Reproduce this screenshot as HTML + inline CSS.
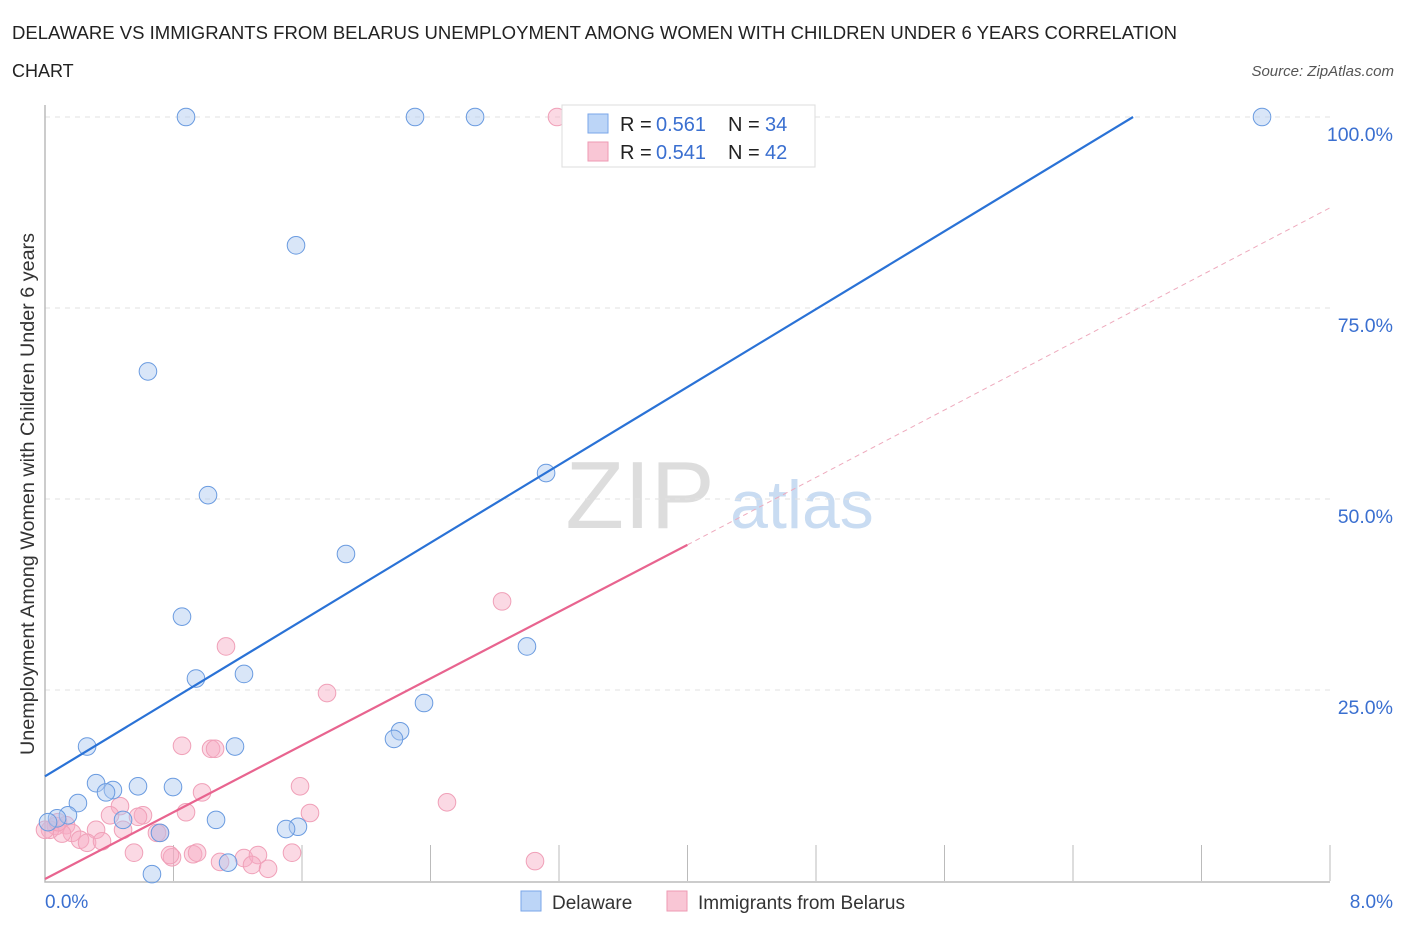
<!DOCTYPE html>
<html><head><meta charset="utf-8"><style>
body{margin:0;background:#fff;font-family:"Liberation Sans",sans-serif}
svg text{font-family:"Liberation Sans",sans-serif}
</style></head><body>
<svg width="1406" height="930" viewBox="0 0 1406 930">
<text x="12" y="39" font-size="18" fill="#222" textLength="1165" lengthAdjust="spacingAndGlyphs">DELAWARE VS IMMIGRANTS FROM BELARUS UNEMPLOYMENT AMONG WOMEN WITH CHILDREN UNDER 6 YEARS CORRELATION</text>
<text x="12" y="77" font-size="18" fill="#222">CHART</text>
<text x="1394" y="76" font-size="15" font-style="italic" fill="#555" text-anchor="end">Source: ZipAtlas.com</text>
<text x="640" y="528" font-size="96" font-family="Liberation Serif,serif" fill="#ddd" text-anchor="middle">ZIP</text>
<text x="802" y="528" font-size="68" fill="#c9dcf2" text-anchor="middle">atlas</text>
<g id="grid"></g>
<g id="marks"></g>
<text transform="translate(34,494) rotate(-90)" font-size="19" fill="#333" text-anchor="middle" textLength="522" lengthAdjust="spacingAndGlyphs">Unemployment Among Women with Children Under 6 years</text>
<text x="45" y="908" font-size="19" fill="#3a6fd0">0.0%</text>
<text x="1393" y="908" font-size="19" fill="#3a6fd0" text-anchor="end">8.0%</text>
<g>
<rect x="562" y="105" width="253" height="62" fill="#fff" stroke="#ddd"/>
<rect x="588" y="114" width="20" height="19" fill="#bcd5f7" stroke="#7aa6e8"/>
<text x="620" y="131" font-size="20" fill="#222">R =</text><text x="656" y="131" font-size="20" fill="#3a6fd0">0.561</text>
<text x="728" y="131" font-size="20" fill="#222">N =</text><text x="765" y="131" font-size="20" fill="#3a6fd0">34</text>
<rect x="588" y="142" width="20" height="19" fill="#f9c6d5" stroke="#ee9ab3"/>
<text x="620" y="159" font-size="20" fill="#222">R =</text><text x="656" y="159" font-size="20" fill="#3a6fd0">0.541</text>
<text x="728" y="159" font-size="20" fill="#222">N =</text><text x="765" y="159" font-size="20" fill="#3a6fd0">42</text>
</g>
<g><rect x="521" y="891" width="20" height="20" fill="#bcd5f7" stroke="#7aa6e8"/><text x="552" y="909" font-size="19" fill="#333">Delaware</text></g>
<g><rect x="667" y="891" width="20" height="20" fill="#f9c6d5" stroke="#ee9ab3"/><text x="698" y="909" font-size="19" fill="#333">Immigrants from Belarus</text></g>
</svg>
<script>
const yTicks=[25,50,75,100];
const blueX=[0.878,2.304,2.678,7.578,1.563,0.641,1.015,3.120,1.874,0.853,0.940,1.239,3.001,2.360,2.211,2.173,0.262,1.183,0.318,0.423,0.380,0.579,0.797,0.205,0.143,0.075,0.019,0.486,1.065,1.575,1.501,0.716,0.666,1.140];
const blueY=[100,100,100,100,83.2,66.7,50.5,53.4,42.8,34.6,26.5,27.1,30.7,23.3,19.6,18.6,17.6,17.6,12.8,11.9,11.6,12.4,12.3,10.2,8.6,8.2,7.7,8.0,8.0,7.1,6.8,6.3,0.9,2.4];
const pinkX=[3.188,2.846,1.127,1.756,0.853,1.034,1.059,1.588,2.503,0.978,0.878,1.650,0.467,0.405,0.610,0.579,0.318,0.486,0.131,0.068,0.031,0.168,0.106,0.218,0.262,0.355,0.716,0.697,0.554,0.791,0.778,0.922,0.947,1.090,1.239,1.326,1.289,1.389,1.538,3.051,0.0,0.081];
const pinkY=[100,36.6,30.7,24.6,17.7,17.3,17.3,12.4,10.3,11.6,9.0,8.9,9.8,8.6,8.6,8.4,6.7,6.7,7.3,7.2,6.7,6.3,6.2,5.4,5.0,5.2,6.3,6.3,3.7,3.1,3.4,3.5,3.7,2.5,3.0,3.4,2.1,1.6,3.7,2.6,6.7,7.7];
const blueLine=[0,13.7,6.775,100];
const pinkLine=[0,0.26,4.0,44.0];
const pinkDash=[4.0,44.0,8.0,88.1];
const X=v=>45+v*160.6, Y=v=>881-v*7.64;
const NS="http://www.w3.org/2000/svg";
const g=document.getElementById('grid'), m=document.getElementById('marks');
function mk(p,t,a){const e=document.createElementNS(NS,t);for(const k in a)e.setAttribute(k,a[k]);p.appendChild(e);return e;}
yTicks.forEach(t=>{
 const l=mk(g,'line',{x1:45,x2:1330,y1:Y(t),y2:Y(t),stroke:'#e2e2e2','stroke-dasharray':'5,5'});
 
 
 const tx=mk(g,'text',{x:1393,y:Y(t)+24,'font-size':19.5,fill:'#3a6fd0','text-anchor':'end'});
 tx.textContent=t.toFixed(1)+'%';
 
 
});
for(let i=1;i<=10;i++){
 const xx=45+i*128.5;
 const l=mk(g,'line',{x1:xx,x2:xx,y1:845,y2:881,stroke:'#bbb'});
 
 
}
const ax=mk(g,'path',{d:'M45,105V882H1330',fill:'none',stroke:'#bbb','stroke-width':1.5});


pinkX.forEach((x,i)=>{
 const c=mk(m,'circle',{cx:X(x),cy:Y(pinkY[i]),r:8.8,fill:'rgba(246,170,195,0.45)',stroke:'#f0a0b8','stroke-width':1});
 
 
});
blueX.forEach((x,i)=>{
 const c=mk(m,'circle',{cx:X(x),cy:Y(blueY[i]),r:8.8,fill:'rgba(170,200,240,0.45)',stroke:'#6a9be0','stroke-width':1});
 
 
});
const bl=mk(m,'line',{x1:X(blueLine[0]),y1:Y(blueLine[1]),x2:X(blueLine[2]),y2:Y(blueLine[3]),stroke:'#2a72d6','stroke-width':2.2});


const pl=mk(m,'line',{x1:X(pinkLine[0]),y1:Y(pinkLine[1]),x2:X(pinkLine[2]),y2:Y(pinkLine[3]),stroke:'#e8648f','stroke-width':2.2});


const pd=mk(m,'line',{x1:X(pinkDash[0]),y1:Y(pinkDash[1]),x2:X(pinkDash[2]),y2:Y(pinkDash[3]),stroke:'#eeaabd','stroke-width':1,'stroke-dasharray':'5,4'});


</script>
</body></html>
